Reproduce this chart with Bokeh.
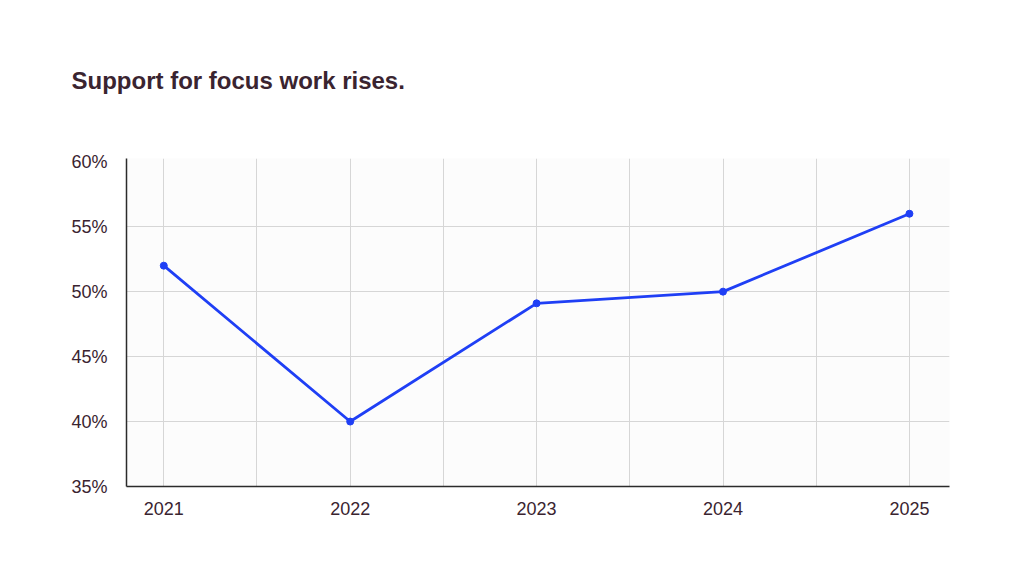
from bokeh.plotting import figure
from bokeh.models import FixedTicker, PrintfTickFormatter, Range1d, ColumnDataSource
from bokeh.embed import file_html
from bokeh.resources import INLINE

years = [2021, 2022, 2023, 2024, 2025]
support = [52, 40, 49.1, 50, 56]
y_ticks = [35, 40, 45, 50, 55, 60]
title_text = "Support for focus work rises."

FONT = "Liberation Sans"
TXT = "#3a2430"

src = ColumnDataSource(dict(x=years, y=support))

p = figure(width=1008, height=560, output_backend="svg", toolbar_location=None,
           x_range=Range1d(2020.8, 2025.215), y_range=Range1d(35, 60.25),
           min_border_left=126, min_border_right=59, min_border_top=158, min_border_bottom=74,
           background_fill_color="#fcfcfc", border_fill_color="#ffffff",
           outline_line_color=None)

p.title.text = title_text
p.title.text_font = FONT
p.title.text_font_size = "24px"
p.title.text_font_style = "bold"
p.title.text_color = TXT
p.title.align = "left"
p.title.offset = -55
p.title.standoff = 129

p.line("x", "y", source=src, line_color="#1f3ff5", line_width=2.8)
p.scatter("x", "y", source=src, size=7, fill_color="#1f3ff5", line_color="#1f3ff5")

half = [2020.5 + 0.5 * i for i in range(1, 10)]
p.xgrid.ticker = FixedTicker(ticks=half)
p.ygrid.ticker = FixedTicker(ticks=y_ticks[1:-1])
for g in (p.xgrid, p.ygrid):
    g.grid_line_color = "#d6d6d6"
    g.grid_line_width = 1

p.xaxis.ticker = FixedTicker(ticks=years)
p.yaxis.ticker = FixedTicker(ticks=y_ticks)
p.yaxis.formatter = PrintfTickFormatter(format="%d%%")
for ax in (p.xaxis, p.yaxis):
    ax.axis_line_color = "#2b2b2b"
    ax.axis_line_width = 1.5
    ax.major_tick_line_color = None
    ax.minor_tick_line_color = None
    ax.major_label_text_font = FONT
    ax.major_label_text_font_size = "18px"
    ax.major_label_text_color = TXT
p.yaxis.major_label_standoff = 13
p.xaxis.major_label_standoff = 9

open("out.html", "w").write(file_html(p, INLINE))
